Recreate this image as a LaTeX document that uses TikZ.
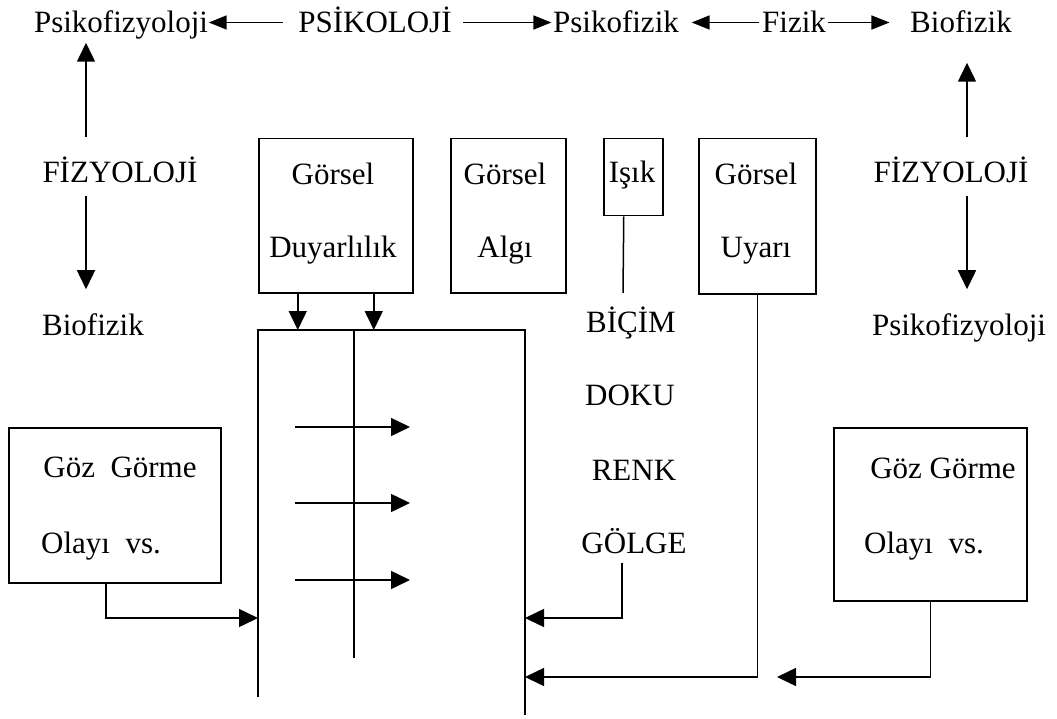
\documentclass[tikz,border=0pt]{standalone}
\usepackage{fontspec}
\setmainfont{Liberation Serif}
\usetikzlibrary{arrows.meta}
\begin{document}
\begin{tikzpicture}[x=1pt,y=-1pt, line width=1.5pt,
  txt/.style={inner sep=0pt, text height=21pt, text depth=0pt, anchor=base, font=\fontsize{31}{36}\selectfont},
  box/.style={draw, inner sep=0pt, anchor=north west},
  arr/.style={-{Triangle[length=19pt,width=18pt]}},
  arrT/.style={-{Triangle[length=18pt,width=14pt]}}]
\useasboundingbox (0,0) rectangle (1057,719);

% top row
\node[txt] (pfzL) at (121,33) {Psikofizyoloji};
\node[txt] (psiko) at (375,33) {PSİKOLOJİ};
\node[txt] (pfk) at (616,33) {Psikofizik};
\node[txt] (fizik) at (794,33) {Fizik};
\node[txt] (bioT) at (961,33) {Biofizik};

\draw[arrT] ([xshift=-15pt]psiko.west) -- (pfzL.east);
\draw[arrT] ([xshift=11pt]psiko.east) -- ([xshift=-1pt]pfk.west);
\draw[arrT] ([xshift=-2pt]fizik.west) -- ([xshift=12pt]pfk.east);
\draw[arrT] ([xshift=1pt]fizik.east) -- ([xshift=-20pt]bioT.west);

% side columns
\node[txt] (fizL) at (120,183) {FİZYOLOJİ};
\node[txt] (bioL) at (93,335) {Biofizik};
\node[txt] (fizR) at (951,183) {FİZYOLOJİ};
\node[txt] (pfzR) at (959,335) {Psikofizyoloji};

\draw[arr] ([shift={(-34,-24)}]fizL.north) -- ([shift={(-35,9)}]pfzL.south);
\draw[arr] ([shift={(-34,12)}]fizL.south) -- ([shift={(-7,-24)}]bioL.north);
\draw[arr] ([shift={(16,-24)}]fizR.north) -- ([shift={(6,29)}]bioT.south);
\draw[arr] ([shift={(16,12)}]fizR.south) -- ([shift={(8,-24)}]pfzR.north);

% upper boxes
\node[box, minimum width=154pt, minimum height=154pt] (gdBox) at (258,138) {};
\node[box, minimum width=115pt, minimum height=154pt] (gaBox) at (450,138) {};
\node[box, minimum width=59pt, minimum height=77pt] (isikBox) at (603,138) {};
\node[box, minimum width=117pt, minimum height=155pt] (guBox) at (698,138) {};

\node[txt] (gd1) at (333,185) {Görsel};
\node[txt] (gd2) at (333,258) {Duyarlılık};
\node[txt] (ga1) at (505,185) {Görsel};
\node[txt] (ga2) at (505,258) {Algı};
\node[txt] (isik) at (632,183) {Işık};
\node[txt] (gu1) at (756,185) {Görsel};
\node[txt] (gu2) at (756,258) {Uyarı};

% middle words
\node[txt] (bicim) at (631,332) {BİÇİM};
\node[txt] (doku) at (630,405) {DOKU};
\node[txt] (renk) at (634,480) {RENK};
\node[txt] (golge) at (634,553) {GÖLGE};

\coordinate (isikEnd) at (623,293);
\draw ([xshift=-9.5pt]isikBox.south) -- (isikEnd);

% central frame
\coordinate (cTL) at (258,330);
\coordinate (cTR) at (525,330);
\coordinate (cBL) at (258,697);
\coordinate (cBR) at (525,715);
\coordinate (cMT) at (354,330);
\coordinate (cMB) at (354,658);
\draw (cBL) -- (cTL) -- (cTR) -- (cBR);
\draw (cMT) -- (cMB);

\draw[arr] ([xshift=-38pt]gdBox.south) -- ([xshift=-38pt]gdBox.south |- cTL);
\draw[arr] ([xshift=38pt]gdBox.south) -- ([xshift=38pt]gdBox.south |- cTL);

\coordinate (h1a) at (295,427); \coordinate (h1b) at (410,427);
\coordinate (h2a) at (295,503); \coordinate (h2b) at (410,503);
\coordinate (h3a) at (295,580); \coordinate (h3b) at (410,580);
\draw[arr] (h1a) -- (h1b);
\draw[arr] (h2a) -- (h2b);
\draw[arr] (h3a) -- (h3b);

% lower boxes
\node[box, minimum width=212pt, minimum height=155pt] (gozLBox) at (8,427) {};
\node[txt] (gozL1) at (120,477) {Göz\ \ Görme};
\node[txt] (gozL2) at (101,553) {Olayı\ \ vs.};
\node[box, minimum width=193pt, minimum height=173pt] (gozRBox) at (833,427) {};
\node[txt] (gozR1) at (943,478) {Göz Görme};
\node[txt] (gozR2) at (924,553) {Olayı\ \ vs.};

\coordinate (inL) at (258,618);
\coordinate (inG) at (525,618);
\coordinate (inU) at (525,677);
\coordinate (outR) at (777,677);
\draw[arr] ([xshift=-9pt]gozLBox.south) |- (inL);
\draw[arr] ([shift={(-12,9)}]golge.south) |- (inG);
\draw[arr] (guBox.south) |- (inU);
\draw[arr] (gozRBox.south) |- (outR);
\end{tikzpicture}
\end{document}
